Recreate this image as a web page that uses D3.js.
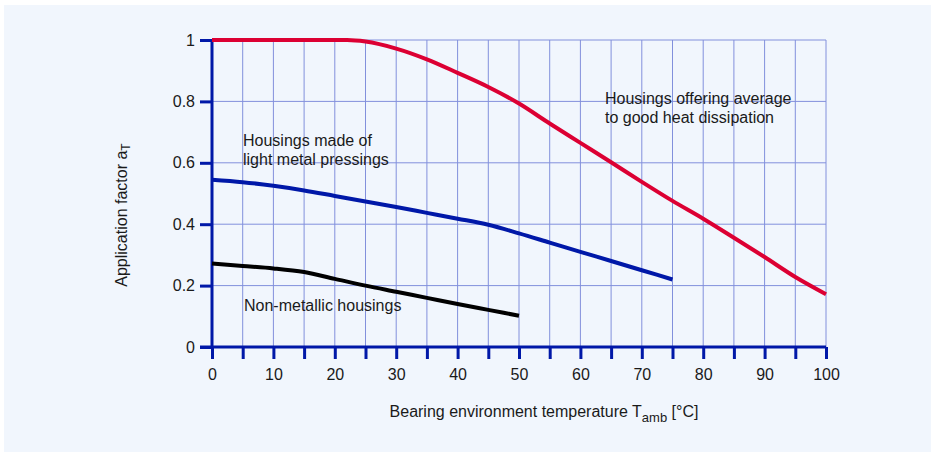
<!DOCTYPE html>
<html>
<head>
<meta charset="utf-8">
<script src="https://cdn.jsdelivr.net/npm/d3@7"></script>
<style>
  body { margin: 0; background: #fff; }
  text { font-family: "Liberation Sans", Arial, sans-serif; fill: #1a1a1a; }
</style>
</head>
<body>
<div class="chart"></div>
<script>
// curves
var tempRed   = [0, 10, 20, 22, 25, 30, 35, 40, 45, 50, 55, 60, 65, 70, 75, 80, 85, 90, 95, 100];
var factorRed = [1, 1, 1, 1, 0.995, 0.972, 0.937, 0.893, 0.847, 0.793, 0.728, 0.665, 0.602, 0.538, 0.476, 0.418, 0.356, 0.293, 0.228, 0.172];

var tempBlue   = [0, 5, 10, 15, 20, 25, 30, 35, 40, 45, 50, 55, 60, 65, 70, 75];
var factorBlue = [0.545, 0.537, 0.525, 0.51, 0.492, 0.474, 0.456, 0.437, 0.418, 0.398, 0.37, 0.34, 0.31, 0.28, 0.25, 0.22];

var tempBlack   = [0, 5, 10, 15, 20, 25, 30, 35, 40, 45, 50];
var factorBlack = [0.272, 0.264, 0.256, 0.244, 0.222, 0.2, 0.18, 0.16, 0.14, 0.121, 0.102];

var xTicks = [0, 10, 20, 30, 40, 50, 60, 70, 80, 90, 100];
var yTicks = [0, 0.2, 0.4, 0.6, 0.8, 1];

var w = 935, h = 454;
var svg = d3.select(".chart").append("svg")
  .attr("width", w)
  .attr("height", h);

svg.append("rect")
  .attr("x", 4).attr("y", 5)
  .attr("width", 927).attr("height", 447)
  .attr("fill", "#f1f6fd");

var x = d3.scaleLinear().domain([0, 100]).range([212, 826]);
var y = d3.scaleLinear().domain([0, 1]).range([347, 40]);

// grid
var gridX = d3.range(5, 101, 5);
svg.selectAll(".gx").data(gridX).enter().append("line")
  .attr("x1", d => x(d)).attr("x2", d => x(d))
  .attr("y1", y(0)).attr("y2", y(1))
  .attr("stroke", "#8290dc").attr("stroke-width", 1);
svg.selectAll(".gy").data(yTicks.slice(1)).enter().append("line")
  .attr("x1", x(0)).attr("x2", x(100))
  .attr("y1", d => y(d)).attr("y2", d => y(d))
  .attr("stroke", "#8290dc").attr("stroke-width", 1);

var axisBlue = "#0018a8";

// y axis
var yAxis = svg.append("g").attr("transform", "translate(" + x(0) + ",0)")
  .call(d3.axisLeft(y).tickValues(yTicks).tickSize(12).tickPadding(5)
    .tickFormat(d => d === 1 ? "1" : d3.format("")(d)));
yAxis.select(".domain").attr("stroke", axisBlue).attr("stroke-width", 3)
  .attr("d", "M0," + y(0) + "V" + y(1));
yAxis.selectAll(".tick line").attr("stroke", axisBlue).attr("stroke-width", 3);
yAxis.selectAll("text").style("font-size", "16px").attr("fill", "#1a1a1a");

// x axis
var xAxis = svg.append("g").attr("transform", "translate(0," + y(0) + ")")
  .call(d3.axisBottom(x).tickValues(gridX.concat([0])).tickSize(12).tickPadding(10)
    .tickFormat(d => xTicks.indexOf(d) >= 0 ? d : ""));
xAxis.select(".domain").attr("stroke", axisBlue).attr("stroke-width", 3)
  .attr("d", "M200,0H" + x(100));
xAxis.selectAll(".tick line").attr("stroke", axisBlue).attr("stroke-width", 3);
xAxis.selectAll("text").style("font-size", "16px").attr("fill", "#1a1a1a");

// curves
var line = d3.line().x(d => x(d[0])).y(d => y(d[1])).curve(d3.curveMonotoneX);
function draw(xs, ys, col) {
  svg.append("path")
    .datum(xs.map((v, i) => [v, ys[i]]))
    .attr("d", line)
    .attr("fill", "none")
    .attr("stroke", col)
    .attr("stroke-width", 4);
}
draw(tempBlack, factorBlack, "#000000");
draw(tempBlue, factorBlue, "#0018a8");
draw(tempRed, factorRed, "#dc0033");

// labels
function label(px, py, lines) {
  var t = svg.append("text").attr("x", px).attr("y", py).style("font-size", "16px");
  lines.forEach((s, i) => t.append("tspan").attr("x", px).attr("dy", i ? 19 : 0).text(s));
}
label(243, 146, ["Housings made of", "light metal pressings"]);
label(244, 311, ["Non-metallic housings"]);
label(605, 104, ["Housings offering average", "to good heat dissipation"]);

// axis titles
var xt = svg.append("text").attr("x", 544).attr("y", 417)
  .attr("text-anchor", "middle").style("font-size", "16px");
xt.append("tspan").text("Bearing environment temperature T");
xt.append("tspan").attr("dy", 5).style("font-size", "13px").text("amb");
xt.append("tspan").attr("dy", -5).text(" [°C]");

var yt = svg.append("text")
  .attr("transform", "translate(127,215) rotate(-90)")
  .attr("text-anchor", "middle").style("font-size", "16px");
yt.append("tspan").text("Application factor a");
yt.append("tspan").attr("dy", 3).style("font-size", "12px").text("T");
</script>
</body>
</html>
